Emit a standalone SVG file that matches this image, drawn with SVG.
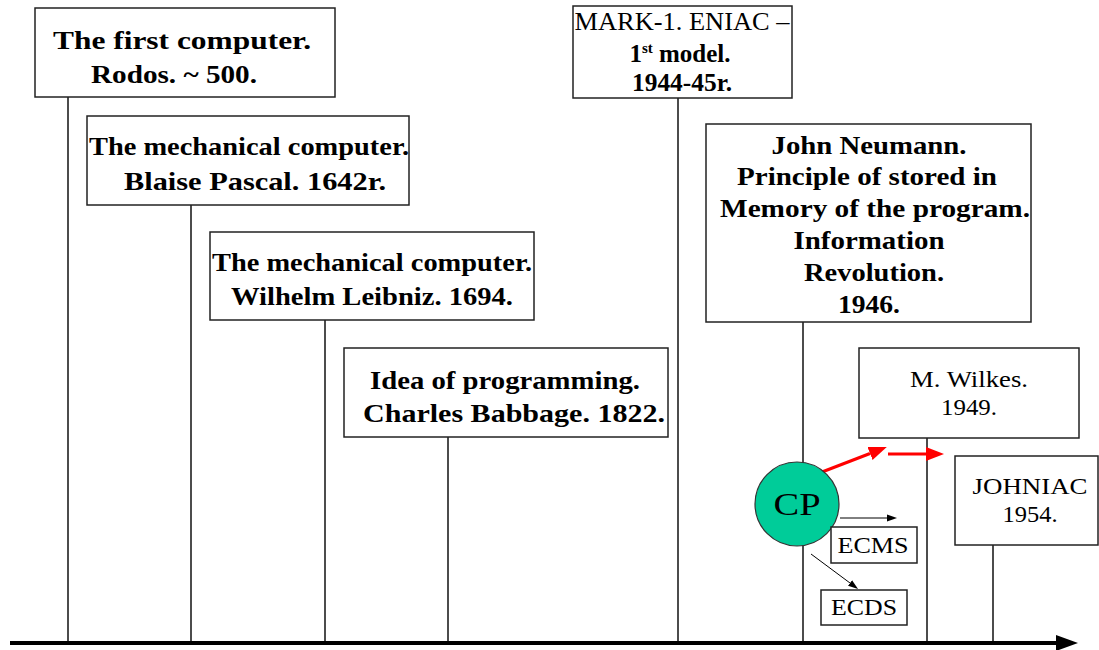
<svg xmlns="http://www.w3.org/2000/svg" width="1099" height="650" viewBox="0 0 1099 650">
<style>
.box{fill:#fff;stroke:#222;stroke-width:1.5}
.vl{stroke:#111;stroke-width:1.5;fill:none}
.t{font-family:"Liberation Serif","Times New Roman",serif;fill:#000;text-anchor:middle}
.b{font-weight:bold;font-size:26px}
.r{font-weight:normal;font-size:23px}
.red{stroke:#ff0000;stroke-width:3;fill:none}
.blk{stroke:#000;stroke-width:1;fill:none}
</style>
<defs>
<marker id="redhead" viewBox="0 -8 20 16" refX="0" refY="0" markerWidth="20" markerHeight="16" markerUnits="userSpaceOnUse" orient="auto">
<path d="M0,-7 L18,0 L0,7 z" fill="#ff0000"/>
</marker>
<marker id="blkhead" viewBox="0 -4 11 8" refX="0" refY="0" markerWidth="11" markerHeight="8" markerUnits="userSpaceOnUse" orient="auto">
<path d="M0,-3.5 L10,0 L0,3.5 z" fill="#000"/>
</marker>
</defs>
<rect width="1099" height="650" fill="#fff"/>
<g id="connectors">
<line class="vl" x1="68" y1="97" x2="68" y2="641"/>
<line class="vl" x1="191" y1="205" x2="191" y2="641"/>
<line class="vl" x1="325" y1="320" x2="325" y2="641"/>
<line class="vl" x1="448" y1="437" x2="448" y2="641"/>
<line class="vl" x1="678" y1="98" x2="678" y2="641"/>
<line class="vl" x1="803" y1="322" x2="803" y2="641"/>
<line class="vl" x1="927" y1="438" x2="927" y2="641"/>
<line class="vl" x1="993" y1="545" x2="993" y2="641"/>
<line x1="10" y1="643" x2="1060" y2="643" stroke="#000" stroke-width="4"/>
<polygon points="1056,635 1078,643 1056,651" fill="#000"/>
<line class="red" x1="822" y1="472" x2="870" y2="453.5" marker-end="url(#redhead)"/>
<line class="red" x1="888" y1="454" x2="926" y2="454" marker-end="url(#redhead)"/>
<line class="blk" x1="840" y1="518" x2="887" y2="518" marker-end="url(#blkhead)"/>
<line class="blk" x1="811" y1="554" x2="850" y2="583" marker-end="url(#blkhead)"/>
</g>
<g id="n-first">
<rect class="box" x="35" y="8" width="300" height="89"/>
<text class="t b" x="182" y="49" textLength="258" lengthAdjust="spacingAndGlyphs">The first computer.</text>
<text class="t b" x="174" y="83" textLength="166" lengthAdjust="spacingAndGlyphs">Rodos. ~ 500.</text>
</g>
<g id="n-pascal">
<rect class="box" x="87" y="116" width="322" height="89"/>
<text class="t b" x="249" y="155" textLength="320" lengthAdjust="spacingAndGlyphs">The mechanical computer.</text>
<text class="t b" x="255" y="190" textLength="262" lengthAdjust="spacingAndGlyphs">Blaise Pascal. 1642r.</text>
</g>
<g id="n-leibniz">
<rect class="box" x="210" y="232" width="324" height="88"/>
<text class="t b" x="372" y="271" textLength="320" lengthAdjust="spacingAndGlyphs">The mechanical computer.</text>
<text class="t b" x="372" y="305" textLength="282" lengthAdjust="spacingAndGlyphs">Wilhelm Leibniz. 1694.</text>
</g>
<g id="n-babbage">
<rect class="box" x="344" y="348" width="324" height="89"/>
<text class="t b" x="505" y="389" textLength="270" lengthAdjust="spacingAndGlyphs">Idea of programming.</text>
<text class="t b" x="514" y="422" textLength="302" lengthAdjust="spacingAndGlyphs">Charles Babbage. 1822.</text>
</g>
<g id="n-mark">
<rect class="box" x="573" y="6" width="219" height="92"/>
<text class="t" font-size="26" x="682" y="30" textLength="215" lengthAdjust="spacingAndGlyphs">MARK-1. ENIAC –</text>
<text class="t" font-size="25" font-weight="bold" x="680" y="62">1<tspan font-size="15" dy="-9">st</tspan><tspan dy="9"> model.</tspan></text>
<text class="t" font-size="25" font-weight="bold" x="682" y="91" textLength="100" lengthAdjust="spacingAndGlyphs">1944-45r.</text>
</g>
<g id="n-neumann">
<rect class="box" x="706" y="124" width="325" height="198"/>
<text class="t b" x="869" y="154" textLength="195" lengthAdjust="spacingAndGlyphs">John Neumann.</text>
<text class="t b" x="867" y="185" textLength="260" lengthAdjust="spacingAndGlyphs">Principle of stored in</text>
<text class="t b" x="875" y="217" textLength="310" lengthAdjust="spacingAndGlyphs">Memory of the program.</text>
<text class="t b" x="869" y="249" textLength="151" lengthAdjust="spacingAndGlyphs">Information</text>
<text class="t b" x="874" y="281" textLength="140" lengthAdjust="spacingAndGlyphs">Revolution.</text>
<text class="t b" x="869" y="313" textLength="62" lengthAdjust="spacingAndGlyphs">1946.</text>
</g>
<g id="n-wilkes">
<rect class="box" x="859" y="348" width="220" height="90"/>
<text class="t r" x="969" y="387" textLength="118" lengthAdjust="spacingAndGlyphs">M. Wilkes.</text>
<text class="t r" x="969" y="415" textLength="56" lengthAdjust="spacingAndGlyphs">1949.</text>
</g>
<g id="n-johniac">
<rect class="box" x="955" y="456" width="143" height="89"/>
<text class="t r" x="1030" y="494" textLength="115" lengthAdjust="spacingAndGlyphs">JOHNIAC</text>
<text class="t r" x="1030" y="522" textLength="55" lengthAdjust="spacingAndGlyphs">1954.</text>
</g>
<g id="n-cp">
<circle cx="797" cy="504" r="42" fill="#00cc99" stroke="#333" stroke-width="1.2"/>
<text class="t" font-size="32" x="797" y="515" textLength="47" lengthAdjust="spacingAndGlyphs">CP</text>
</g>
<g id="n-ecms">
<rect class="box" x="831" y="527" width="86" height="36"/>
<text class="t" font-size="23" x="873" y="553" textLength="71" lengthAdjust="spacingAndGlyphs">ECMS</text>
</g>
<g id="n-ecds">
<rect class="box" x="821" y="590" width="86" height="35"/>
<text class="t" font-size="23" x="864" y="615" textLength="66" lengthAdjust="spacingAndGlyphs">ECDS</text>
</g>
</svg>
